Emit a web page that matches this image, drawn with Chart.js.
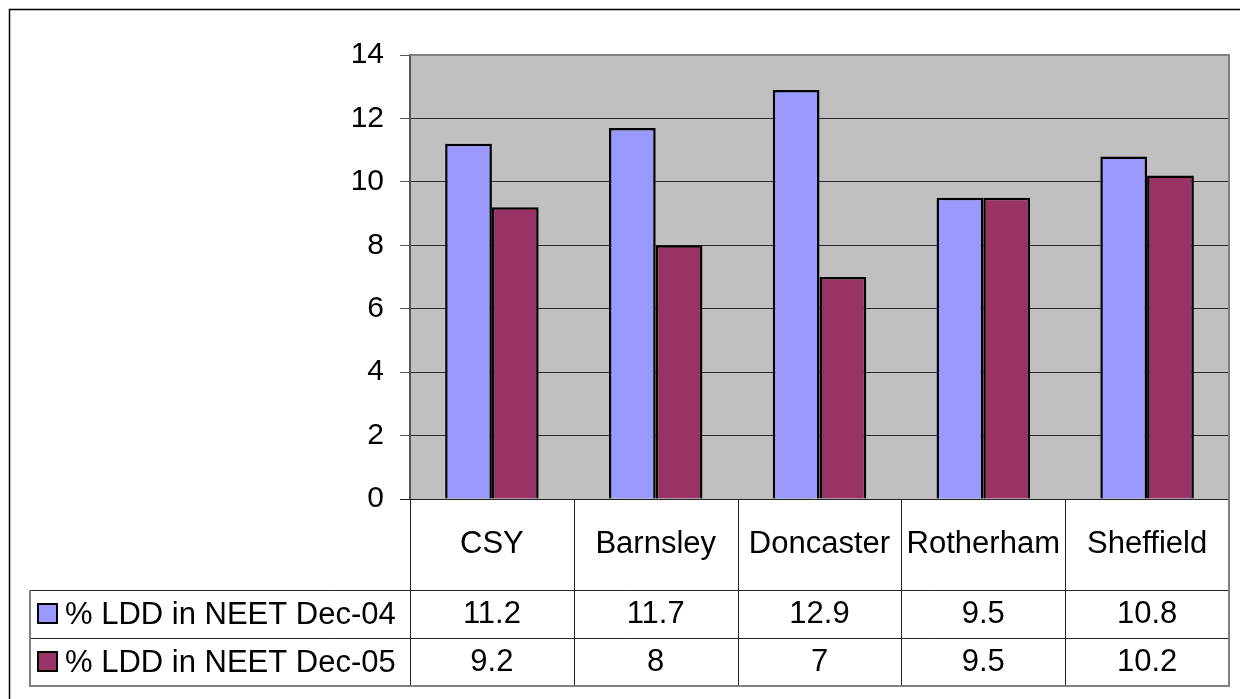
<!DOCTYPE html>
<html>
<head>
<meta charset="utf-8">
<title>% LDD in NEET</title>
<script src="https://cdn.jsdelivr.net/npm/chart.js@4.4.1/dist/chart.umd.min.js"></script>
<style>
  html, body { margin: 0; padding: 0; background: #ffffff; }
  #wrap { width: 1240px; height: 699px; position: relative; }
</style>
</head>
<body>
<div id="wrap"><canvas id="c" width="1240" height="699"></canvas></div>
<script>
// Categories and series values
const categories = ['CSY', 'Barnsley', 'Doncaster', 'Rotherham', 'Sheffield'];
const seriesLabels = ['% LDD in NEET Dec-04', '% LDD in NEET Dec-05'];
const dec04 = [11.2, 11.7, 12.9, 9.5, 10.8];
const dec05 = [9.2, 8, 7, 9.5, 10.2];
const yMin = 0;
const yMax = 14;
const yStep = 2;

const FONT = '"Liberation Sans", Arial, Helvetica, sans-serif';
const TICK_SIZE = 30;
const TABLE_SIZE = 31;
const BLUE = '#9999FF';
const MAROON = '#993366';

// Layout of the data table under the plot
const TABLE = {
  catRowH: 91,
  rowH: 48,
  legendLeft: 30
};

const tablePlugin = {
  id: 'dataTable',
  beforeDraw(chart) {
    const { ctx, chartArea: a } = chart;
    ctx.save();
    ctx.fillStyle = '#C0C0C0';
    ctx.fillRect(a.left, a.top, a.right - a.left, a.bottom - a.top);
    ctx.restore();
  },
  afterDraw(chart) {
    const { ctx, chartArea: a } = chart;
    const xs = chart.scales.x;
    const n = categories.length;
    const colW = (a.right - a.left) / n;
    const top = a.bottom;
    const catBottom = top + TABLE.catRowH;
    const r1Bottom = catBottom + TABLE.rowH;
    const r2Bottom = r1Bottom + TABLE.rowH;

    ctx.save();
    // plot frame: top and right edges
    ctx.strokeStyle = '#808080';
    ctx.lineWidth = 2;
    ctx.beginPath();
    ctx.moveTo(a.left, a.top);
    ctx.lineTo(a.right, a.top);
    ctx.lineTo(a.right, a.bottom);
    ctx.stroke();

    // table lines
    ctx.lineWidth = 1;
    ctx.strokeStyle = '#222';
    ctx.beginPath();
    // top of table (zero line)
    ctx.moveTo(a.left - 10, top + 0.5);
    ctx.lineTo(a.right, top + 0.5);
    // column dividers
    for (let i = 0; i <= n; i++) {
      const x = Math.round(a.left + i * colW) + 0.5;
      ctx.moveTo(x, top);
      ctx.lineTo(x, r2Bottom);
    }
    // row lines across legend and data columns
    [catBottom, r1Bottom].forEach(y => {
      ctx.moveTo(TABLE.legendLeft, y + 0.5);
      ctx.lineTo(a.right, y + 0.5);
    });
    ctx.stroke();

    // outer edges of the table in grey
    ctx.strokeStyle = '#808080';
    ctx.lineWidth = 2;
    ctx.beginPath();
    ctx.moveTo(TABLE.legendLeft, catBottom);
    ctx.lineTo(TABLE.legendLeft, r2Bottom);
    ctx.lineTo(a.right, r2Bottom);
    ctx.lineTo(a.right, top);
    ctx.stroke();

    // category labels and values
    ctx.fillStyle = '#000';
    ctx.font = TABLE_SIZE + 'px ' + FONT;
    ctx.textAlign = 'center';
    ctx.textBaseline = 'middle';
    const rows = [dec04, dec05];
    categories.forEach((c, i) => {
      const cx = xs.getPixelForValue(i);
      ctx.fillText(c, cx, (top + catBottom) / 2);
      ctx.fillText(String(rows[0][i]), cx, (catBottom + r1Bottom) / 2);
      ctx.fillText(String(rows[1][i]), cx, (r1Bottom + r2Bottom) / 2);
    });

    // legend keys in the left column
    const colors = [BLUE, MAROON];
    const rowTops = [catBottom, r1Bottom];
    seriesLabels.forEach((lab, k) => {
      const yc = rowTops[k] + TABLE.rowH / 2;
      const sx = TABLE.legendLeft + 8;
      ctx.fillStyle = colors[k];
      ctx.fillRect(sx, yc - 10, 19, 19);
      ctx.strokeStyle = '#000';
      ctx.lineWidth = 2;
      ctx.strokeRect(sx, yc - 10, 19, 19);
      ctx.fillStyle = '#000';
      ctx.textAlign = 'left';
      ctx.fillText(lab, sx + 27, yc + 1);
    });

    // outer chart frame
    ctx.strokeStyle = '#000';
    ctx.lineWidth = 1.5;
    ctx.beginPath();
    ctx.moveTo(9.5, chart.height + 5);
    ctx.lineTo(9.5, 9.5);
    ctx.lineTo(chart.width + 5, 9.5);
    ctx.stroke();
    ctx.restore();
  }
};

new Chart(document.getElementById('c'), {
  type: 'bar',
  data: {
    labels: categories,
    datasets: [
      { label: seriesLabels[0], data: dec04, backgroundColor: BLUE, borderColor: '#000', borderWidth: 2.5 },
      { label: seriesLabels[1], data: dec05, backgroundColor: MAROON, borderColor: '#000', borderWidth: 2.5 }
    ]
  },
  options: {
    responsive: false,
    animation: false,
    events: [],
    categoryPercentage: 0.571,
    barPercentage: 1.0,
    layout: { padding: { left: 0, right: 11, top: 55, bottom: 200 } },
    plugins: { legend: { display: false }, tooltip: { enabled: false }, title: { display: false } },
    scales: {
      x: { display: false },
      y: {
        min: yMin,
        max: yMax,
        ticks: {
          stepSize: yStep,
          color: '#000',
          padding: 16,
          font: { family: FONT, size: TICK_SIZE }
        },
        grid: {
          color: (ctx) => (ctx.tick && (ctx.tick.value === yMax || ctx.tick.value === yMin)) ? 'rgba(0,0,0,0)' : '#2a2a2a',
          lineWidth: 1,
          drawTicks: true,
          tickLength: 10,
          tickColor: '#555'
        },
        border: { display: true, color: '#555', width: 2 },
        afterFit(scale) { scale.width = 410; }
      }
    }
  },
  plugins: [tablePlugin]
});
</script>
</body>
</html>
